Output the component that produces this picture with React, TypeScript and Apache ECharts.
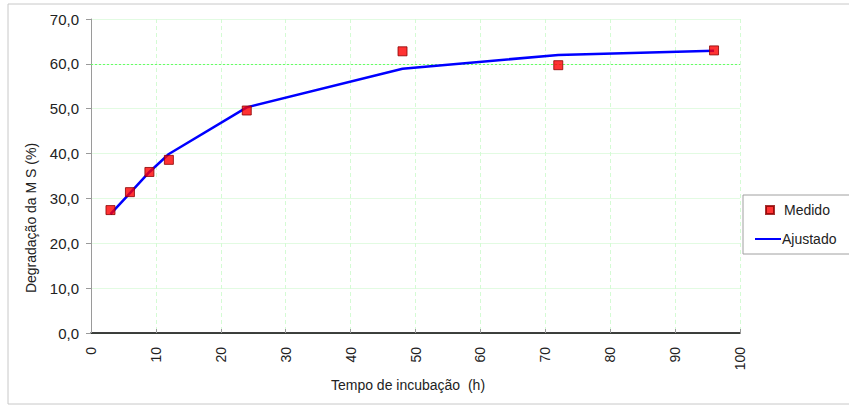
import React, { useEffect, useRef } from "react";
import * as echarts from "echarts";

const tempos = [3, 6, 9, 12, 24, 48, 72, 96];
const medido = [27.4, 31.4, 35.9, 38.6, 49.6, 62.8, 59.7, 63.0];
const ajustado = [26.5, 31.2, 35.9, 39.9, 50.3, 58.9, 62.0, 62.9];
const xTicks = [0, 10, 20, 30, 40, 50, 60, 70, 80, 90, 100];
const yTicks = [0, 10, 20, 30, 40, 50, 60, 70];

const FONT = "Liberation Sans, Arial, sans-serif";

export default function App() {
  const ref = useRef<HTMLDivElement>(null);
  useEffect(() => {
    document.body.style.margin = "0";
    const chart = echarts.init(ref.current!, null, { renderer: "svg" });
    chart.setOption({
      animation: false,
      backgroundColor: "#ffffff",
      textStyle: { fontFamily: FONT },
      grid: { left: 91, right: 109, top: 19, bottom: 73, containLabel: false },
      xAxis: {
        type: "value",
        min: xTicks[0],
        max: xTicks[xTicks.length - 1],
        interval: 10,
        axisLine: { lineStyle: { color: "#000000", width: 1.5 } },
        axisTick: { show: true, inside: true, length: 4, lineStyle: { color: "#999999" } },
        axisLabel: { rotate: 90, margin: 14, fontSize: 14, color: "#222222", fontFamily: FONT },
        splitLine: { show: true, lineStyle: { color: "#d4fbd4", type: [4, 3], width: 1 } },
      },
      yAxis: {
        type: "value",
        min: yTicks[0],
        max: yTicks[yTicks.length - 1],
        interval: 10,
        axisLine: { show: true, lineStyle: { color: "#9a9a9a", width: 1 } },
        axisTick: { show: true, inside: false, length: 5, lineStyle: { color: "#9a9a9a" } },
        axisLabel: {
          margin: 12,
          fontSize: 15,
          color: "#222222",
          fontFamily: FONT,
          formatter: (v: number) => v.toFixed(1).replace(".", ","),
        },
        splitLine: { show: true, lineStyle: { color: "#e2fbe2", width: 1 } },
      },
      legend: [
        {
          data: [{ name: "Medido", icon: "rect" }],
          left: 765,
          top: 203,
          padding: 0,
          itemWidth: 8,
          itemHeight: 8,
          textStyle: { fontSize: 14, color: "#222222", fontFamily: FONT, padding: [0, 0, 0, 5] },
        },
        {
          data: [{ name: "Ajustado", icon: "rect" }],
          left: 755,
          top: 232,
          padding: 0,
          itemWidth: 26,
          itemHeight: 2,
          textStyle: { fontSize: 14, color: "#222222", fontFamily: FONT, padding: [0, 0, 0, -4] },
        },
      ],
      graphic: [
        {
          type: "rect",
          shape: { x: 8, y: 4, width: 860, height: 400 },
          style: { fill: "none", stroke: "#c8c8c8", lineWidth: 1 },
          z: -10,
        },
        {
          type: "rect",
          shape: { x: 743, y: 195, width: 130, height: 59 },
          style: { fill: "#ffffff", stroke: "#a0a0a0", lineWidth: 1 },
          z: 0,
        },
        {
          type: "text",
          x: 31,
          y: 218,
          rotation: Math.PI / 2,
          style: {
            text: "Degradação da M S (%)",
            fontSize: 14,
            fontFamily: FONT,
            fill: "#222222",
            align: "center",
            verticalAlign: "middle",
          },
        },
        {
          type: "text",
          x: 408,
          y: 385,
          style: {
            text: "Tempo de incubação  (h)",
            fontSize: 14,
            fontFamily: FONT,
            fill: "#222222",
            align: "center",
            verticalAlign: "middle",
          },
        },
      ],
      series: [
        {
          name: "Ajustado",
          type: "line",
          data: tempos.map((t, i) => [t, ajustado[i]]),
          symbol: "none",
          lineStyle: { color: "#0000ff", width: 2.5 },
          itemStyle: { color: "#0000ff" },
          z: 2,
          markLine: {
            silent: true,
            symbol: "none",
            label: { show: false },
            lineStyle: { color: "#66ff66", type: [2, 2], width: 1 },
            data: [{ yAxis: 60 }],
            z: 1,
          },
        },
        {
          name: "Medido",
          type: "scatter",
          data: tempos.map((t, i) => [t, medido[i]]),
          symbol: "rect",
          symbolSize: 9,
          itemStyle: { color: "#ff0000", borderColor: "#8b0000", borderWidth: 1 },
          z: 3,
        },
      ],
    });
    return () => chart.dispose();
  }, []);
  return <div ref={ref} style={{ width: 849, height: 406 }} />;
}
